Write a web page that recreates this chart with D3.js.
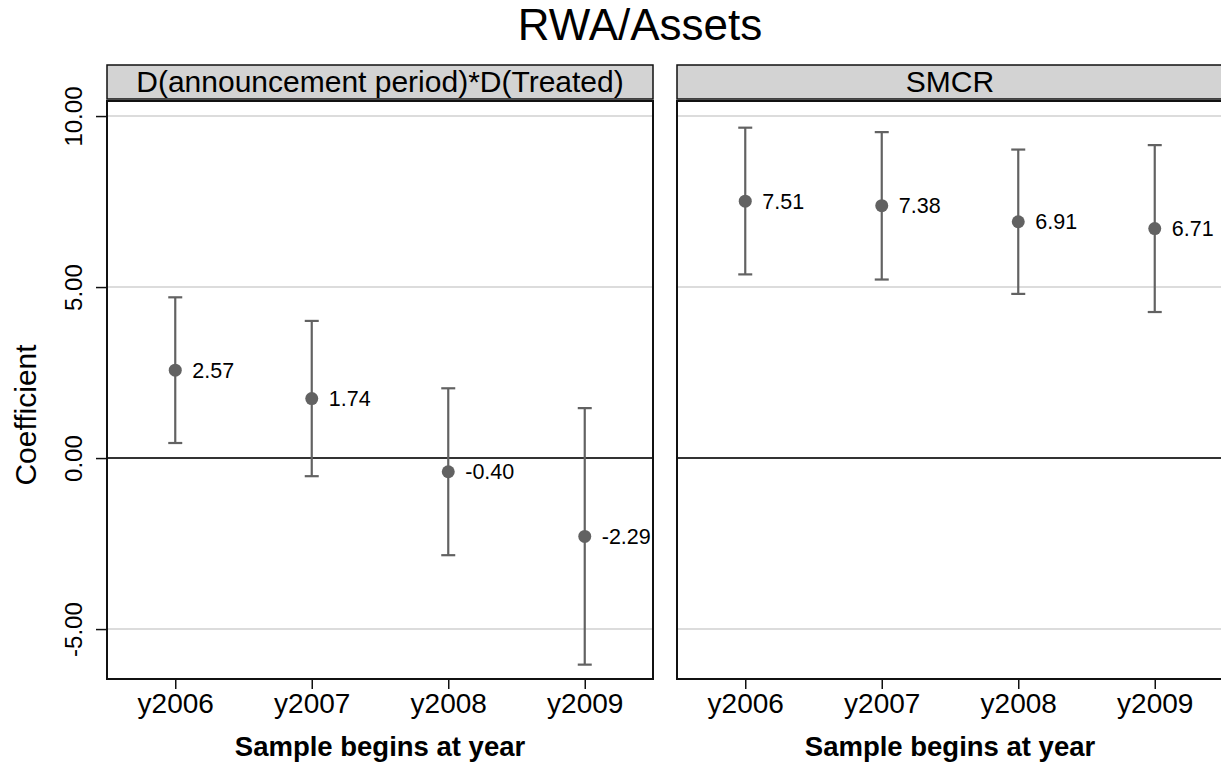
<!DOCTYPE html>
<html>
<head>
<meta charset="utf-8">
<script src="https://cdn.jsdelivr.net/npm/d3@7/dist/d3.min.js"></script>
<style>
  html, body { margin: 0; padding: 0; background: #fff; }
  svg { display: block; font-family: "Liberation Sans", Arial, sans-serif; }
</style>
</head>
<body>
<svg id="chart" width="1221" height="764"></svg>
<script>
// ---- data ----
const years = ["y2006", "y2007", "y2008", "y2009"];
const panelTitles = ["D(announcement period)*D(Treated)", "SMCR"];
const coefTreated  = [2.57, 1.74, -0.40, -2.29];
const lowerTreated = [0.44, -0.53, -2.84, -6.04];
const upperTreated = [4.70, 4.01, 2.04, 1.46];
const coefSMCR  = [7.51, 7.38, 6.91, 6.71];
const lowerSMCR = [5.37, 5.22, 4.80, 4.27];
const upperSMCR = [9.66, 9.53, 9.02, 9.15];
const yTicks = [-5, 0, 5, 10];
const chartTitle = "RWA/Assets";
const yTitle = "Coefficient";
const xTitle = "Sample begins at year";

const panels = [
  { title: panelTitles[0], coef: coefTreated, lo: lowerTreated, hi: upperTreated, x0: 107 },
  { title: panelTitles[1], coef: coefSMCR, lo: lowerSMCR, hi: upperSMCR, x0: 677 }
];

// ---- layout ----
const panelW = 546;
const plotTop = 101, plotBottom = 679;
const headTop = 65, headBottom = 99;
const markColor = "#626262";

const svg = d3.select("#chart");
const y = d3.scaleLinear().domain([-6.46, 10.44]).range([plotBottom, plotTop]);
const locale = d3.formatLocale({ decimal: ".", thousands: ",", grouping: [3], currency: ["", ""], minus: "-" });
const fmt = locale.format(".2f");

svg.append("text")
  .attr("x", 640).attr("y", 40)
  .attr("text-anchor", "middle")
  .attr("font-size", 44)
  .text(chartTitle);

panels.forEach((p, pi) => {
  const x = d3.scalePoint().domain(years).range([p.x0, p.x0 + panelW]).padding(0.5);
  const g = svg.append("g");

  // header
  g.append("rect")
    .attr("x", p.x0).attr("y", headTop)
    .attr("width", panelW).attr("height", headBottom - headTop)
    .attr("fill", "#d3d3d3").attr("stroke", "#111").attr("stroke-width", 1.5);
  g.append("text")
    .attr("x", p.x0 + panelW / 2).attr("y", headBottom - 7)
    .attr("text-anchor", "middle").attr("font-size", 30)
    .text(p.title);

  // gridlines
  g.selectAll(".grid").data(yTicks.filter(t => t !== 0)).join("line")
    .attr("x1", p.x0).attr("x2", p.x0 + panelW)
    .attr("y1", d => y(d)).attr("y2", d => y(d))
    .attr("stroke", "#dcdcdc").attr("stroke-width", 2);
  g.append("line")
    .attr("x1", p.x0).attr("x2", p.x0 + panelW)
    .attr("y1", y(0)).attr("y2", y(0))
    .attr("stroke", "#333").attr("stroke-width", 2);

  // plot frame
  g.append("rect")
    .attr("x", p.x0).attr("y", plotTop)
    .attr("width", panelW).attr("height", plotBottom - plotTop)
    .attr("fill", "none").attr("stroke", "#111").attr("stroke-width", 2);

  // x axis
  const xAxis = d3.axisBottom(x).tickSize(10).tickPadding(4).tickSizeOuter(0);
  const xa = g.append("g").attr("transform", `translate(0,${plotBottom})`).call(xAxis);
  xa.select(".domain").remove();
  xa.selectAll(".tick line").attr("stroke", "#111").attr("stroke-width", 1.5);
  xa.selectAll(".tick text").attr("font-size", 28).attr("fill", "#000")
    .attr("font-family", "Liberation Sans, Arial, sans-serif");

  g.append("text")
    .attr("x", p.x0 + panelW / 2).attr("y", 756)
    .attr("text-anchor", "middle").attr("font-size", 27.5).attr("font-weight", "bold")
    .text(xTitle);

  // y axis only on first panel
  if (pi === 0) {
    const yAxis = d3.axisLeft(y).tickValues(yTicks).tickSize(11).tickFormat(fmt).tickSizeOuter(0);
    const ya = g.append("g").attr("transform", `translate(${p.x0},0)`).call(yAxis);
    ya.select(".domain").remove();
    ya.selectAll(".tick line").attr("stroke", "#111").attr("stroke-width", 1.5);
    ya.selectAll(".tick text")
      .attr("font-size", 24).attr("fill", "#000")
      .attr("font-family", "Liberation Sans, Arial, sans-serif")
      .attr("text-anchor", "middle").attr("dy", 0).attr("x", 0)
      .attr("transform", "translate(-25,0) rotate(-90)");
  }

  // error bars
  const data = years.map((yr, i) => ({ yr, c: p.coef[i], lo: p.lo[i], hi: p.hi[i] }));
  const eb = g.selectAll(".eb").data(data).join("g");
  eb.append("line")
    .attr("x1", d => x(d.yr)).attr("x2", d => x(d.yr))
    .attr("y1", d => y(d.lo)).attr("y2", d => y(d.hi))
    .attr("stroke", markColor).attr("stroke-width", 2.2);
  eb.append("line")
    .attr("x1", d => x(d.yr) - 7).attr("x2", d => x(d.yr) + 7)
    .attr("y1", d => y(d.hi)).attr("y2", d => y(d.hi))
    .attr("stroke", markColor).attr("stroke-width", 2.2);
  eb.append("line")
    .attr("x1", d => x(d.yr) - 7).attr("x2", d => x(d.yr) + 7)
    .attr("y1", d => y(d.lo)).attr("y2", d => y(d.lo))
    .attr("stroke", markColor).attr("stroke-width", 2.2);
  eb.append("circle")
    .attr("cx", d => x(d.yr)).attr("cy", d => y(d.c)).attr("r", 6.5)
    .attr("fill", markColor);
  eb.append("text")
    .attr("x", d => x(d.yr) + 17).attr("y", d => y(d.c))
    .attr("dy", "0.36em").attr("font-size", 21.5)
    .text(d => fmt(d.c));
});

// y title
svg.append("text")
  .attr("transform", "translate(36,415) rotate(-90)")
  .attr("text-anchor", "middle").attr("font-size", 30)
  .text(yTitle);
</script>
</body>
</html>
